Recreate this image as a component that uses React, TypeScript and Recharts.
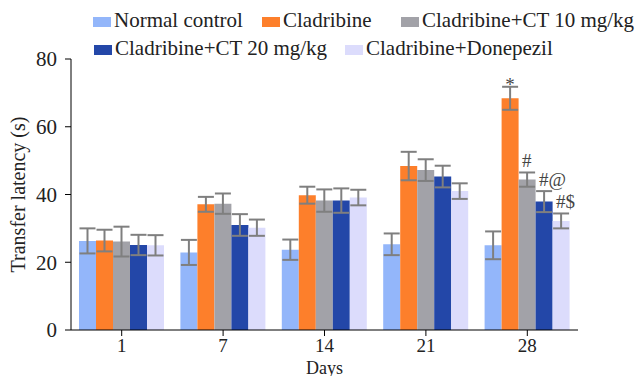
import React from "react";
import {
  Bar,
  BarChart,
  ErrorBar,
  LabelList,
  XAxis,
  YAxis,
} from "recharts";

const days = ["1", "7", "14", "21", "28"];

const normalControl = [26.3, 22.9, 23.7, 25.3, 25.0];
const normalErr = [3.7, 3.7, 3.0, 3.2, 4.1];

const cladribine = [26.4, 37.1, 39.8, 48.4, 68.4];
const cladribineErr = [3.2, 2.2, 2.5, 4.2, 3.4];

const ct10 = [26.1, 37.3, 38.2, 47.2, 44.4];
const ct10Err = [4.4, 3.0, 3.3, 3.2, 2.1];

const ct20 = [25.1, 31.0, 38.2, 45.3, 37.9];
const ct20Err = [3.0, 3.2, 3.6, 3.2, 3.1];

const donepezil = [25.0, 30.2, 39.1, 41.0, 32.2];
const donepezilErr = [3.0, 2.4, 2.3, 2.3, 2.2];

const cladribineSig = ["", "", "", "", "*"];
const ct10Sig = ["", "", "", "", "#"];
const ct20Sig = ["", "", "", "", "#@"];
const donepezilSig = ["", "", "", "", "#$"];

const yTicks = [0, 20, 40, 60, 80];

const series = [
  { key: "normal", err: "normalErr", sig: null, name: "Normal control", color: "#93b6fa", values: normalControl, errs: normalErr },
  { key: "clad", err: "cladErr", sig: "cladSig", name: "Cladribine", color: "#fd7f2b", values: cladribine, errs: cladribineErr },
  { key: "ct10", err: "ct10Err", sig: "ct10Sig", name: "Cladribine+CT 10 mg/kg", color: "#a2a2a8", values: ct10, errs: ct10Err },
  { key: "ct20", err: "ct20Err", sig: "ct20Sig", name: "Cladribine+CT 20 mg/kg", color: "#2347a8", values: ct20, errs: ct20Err },
  { key: "done", err: "doneErr", sig: "doneSig", name: "Cladribine+Donepezil", color: "#dcdcfc", values: donepezil, errs: donepezilErr },
];

const data = days.map((day, i) => ({
  day,
  normal: normalControl[i],
  normalErr: normalErr[i],
  clad: cladribine[i],
  cladErr: cladribineErr[i],
  cladSig: cladribineSig[i],
  ct10: ct10[i],
  ct10Err: ct10Err[i],
  ct10Sig: ct10Sig[i],
  ct20: ct20[i],
  ct20Err: ct20Err[i],
  ct20Sig: ct20Sig[i],
  done: donepezil[i],
  doneErr: donepezilErr[i],
  doneSig: donepezilSig[i],
}));

const FONT = "Liberation Serif";

// legend placement (left of swatch, row top)
const legendPos = [
  { left: 93, top: 8 },
  { left: 262, top: 8 },
  { left: 401, top: 8 },
  { left: 94, top: 36 },
  { left: 345, top: 36 },
];

function ChartLegend() {
  return (
    <div style={{ position: "absolute", left: 0, top: 0, width: 635, height: 60, fontFamily: FONT }}>
      {series.map((s, i) => (
        <div
          key={s.key}
          style={{
            position: "absolute",
            left: legendPos[i].left,
            top: legendPos[i].top,
            display: "flex",
            alignItems: "center",
            whiteSpace: "nowrap",
            fontSize: 21,
            lineHeight: "24px",
            color: "#222",
          }}
        >
          <span style={{ display: "inline-block", width: 18, height: 10, background: s.color, marginRight: 3, marginTop: 4 }} />
          {s.name}
        </div>
      ))}
    </div>
  );
}

function makeSigLabel(values: number[], errs: number[]) {
  return (props: any) => {
    const { x, y, width, height, value, index } = props;
    if (!value) return null;
    const v = values[index];
    const errTop = y - (errs[index] * height) / v;
    const cx = x + width / 2;
    const star = value === "*";
    return (
      <text
        x={star ? cx : cx - 5}
        y={star ? errTop + 4 : errTop - 5}
        textAnchor={star ? "middle" : "start"}
        fontSize={19}
        fontFamily={FONT}
        fill="#444"
      >
        {value}
      </text>
    );
  };
}

export default function App() {
  return (
    <div style={{ position: "absolute", left: 0, top: 0, width: 635, height: 376, background: "#fff", fontFamily: FONT }}>
      <BarChart
        width={635}
        height={376}
        data={data}
        margin={{ top: 59, right: 57, bottom: 16, left: 0 }}
        barCategoryGap={8}
        barGap={0}
      >
        <XAxis
          dataKey="day"
          height={30}
          tickSize={6}
          tickMargin={3}
          stroke="#000"
          tick={{ fontSize: 19, fontFamily: FONT, fill: "#222" }}
          label={{ value: "Days", position: "insideBottom", offset: -14, style: { fontSize: 18, fontFamily: FONT, fill: "#222" } }}
        />
        <YAxis
          width={71}
          domain={[0, 80]}
          ticks={yTicks}
          tickSize={6}
          tickMargin={8}
          stroke="#000"
          tick={{ fontSize: 21, fontFamily: FONT, fill: "#222" }}
          label={{
            value: "Transfer latency (s)",
            angle: -90,
            position: "insideLeft",
            offset: 18,
            style: { textAnchor: "middle", fontSize: 20, fontFamily: FONT, fill: "#222" },
          }}
        />
        {series.map((s) => (
          <Bar key={s.key} dataKey={s.key} name={s.name} fill={s.color} isAnimationActive={false}>
            <ErrorBar dataKey={s.err} width={8} stroke="#7f7f7f" strokeWidth={2} direction="y" />
            {s.sig ? <LabelList dataKey={s.sig} content={makeSigLabel(s.values, s.errs)} /> : null}
          </Bar>
        ))}
      </BarChart>
      <ChartLegend />
    </div>
  );
}
